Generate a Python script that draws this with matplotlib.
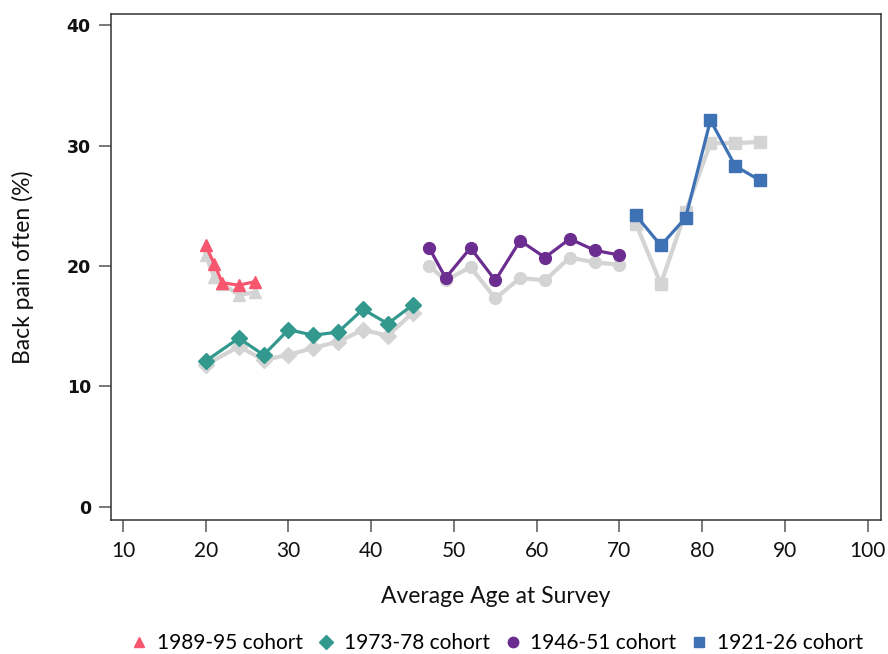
import matplotlib
matplotlib.use("Agg")
import matplotlib.pyplot as plt
from matplotlib.lines import Line2D

# cohort data: age at survey and % reporting back pain often
age_8995 = [20, 21, 22, 24, 26]
pain_8995 = [21.7, 20.2, 18.6, 18.4, 18.7]
grey_8995 = [20.9, 19.1, 18.5, 17.6, 17.8]

age_7378 = [20, 24, 27, 30, 33, 36, 39, 42, 45]
pain_7378 = [12.1, 14.0, 12.6, 14.7, 14.25, 14.5, 16.4, 15.2, 16.75]
grey_7378 = [11.8, 13.3, 12.2, 12.6, 13.2, 13.7, 14.7, 14.2, 16.1]

age_4651 = [47, 49, 52, 55, 58, 61, 64, 67, 70]
pain_4651 = [21.5, 19.0, 21.5, 18.8, 22.1, 20.7, 22.25, 21.3, 20.9]
grey_4651 = [20.0, 18.8, 19.9, 17.3, 19.0, 18.8, 20.7, 20.3, 20.1]

age_2126 = [72, 75, 78, 81, 84, 87]
pain_2126 = [24.2, 21.7, 24.0, 32.1, 28.3, 27.1]
grey_2126 = [23.5, 18.5, 24.5, 30.2, 30.2, 30.3]

labels = ["1989-95 cohort", "1973-78 cohort", "1946-51 cohort", "1921-26 cohort"]
colors = ["#f7566e", "#33998f", "#6b2d8f", "#3e72b4"]
markers = ["^", "D", "o", "s"]
sizes = [9, 8, 8.5, 8.5]

ages = [age_8995, age_7378, age_4651, age_2126]
pains = [pain_8995, pain_7378, pain_4651, pain_2126]
greys = [grey_8995, grey_7378, grey_4651, grey_2126]

fig = plt.figure(figsize=(8.88, 6.54), dpi=100)
ax = fig.add_axes([0.125, 0.205, 0.867, 0.774])

for x, g, m, s in zip(ages, greys, markers, sizes):
    ax.plot(x, g, color="#d4d4d4", lw=3.0, marker=m, ms=s, mec="#d4d4d4", zorder=2)

for x, y, c, m, s in zip(ages, pains, colors, markers, sizes):
    ax.plot(x, y, color=c, lw=2.3, marker=m, ms=s, mec=c, zorder=3)

ax.set_xlim(8.55, 101.6)
ax.set_ylim(-1.1, 40.95)
ax.set_xticks(range(10, 101, 10))
ax.set_yticks([0, 10, 20, 30, 40])

for sp in ax.spines.values():
    sp.set_color("#333333")
    sp.set_linewidth(1.1)

ax.tick_params(axis="both", direction="out", length=8.5, width=1.1, color="#555555")
ax.tick_params(axis="y", pad=6)
ax.tick_params(axis="x", pad=7)
for t in ax.get_yticklabels():
    t.set_fontfamily("DejaVu Sans")
    t.set_fontweight("bold")
    t.set_fontsize(12.5)
    t.set_color("#111111")
for t in ax.get_xticklabels():
    t.set_fontfamily("Lato")
    t.set_fontsize(15)
    t.set_color("#111111")

ax.set_xlabel("Average Age at Survey", fontfamily="Lato", fontsize=16.5, color="#111111")
ax.set_ylabel("Back pain often (%)", fontfamily="Lato", fontsize=16.5, color="#111111")
ax.xaxis.set_label_coords(0.5, -0.13)
ax.yaxis.set_label_coords(-0.1, 0.5)

handles = [Line2D([], [], ls="none", marker=m, color=c, ms=7.5)
           for m, c in zip(markers, colors)]
fig.legend(handles, labels, loc="center", ncol=4, frameon=False,
           bbox_to_anchor=(497 / 888, 1 - 643 / 654), handlelength=0.8,
           handletextpad=0.45, columnspacing=0.7,
           prop={"family": "Lato", "size": 15})

fig.savefig("out.png", dpi=100)
